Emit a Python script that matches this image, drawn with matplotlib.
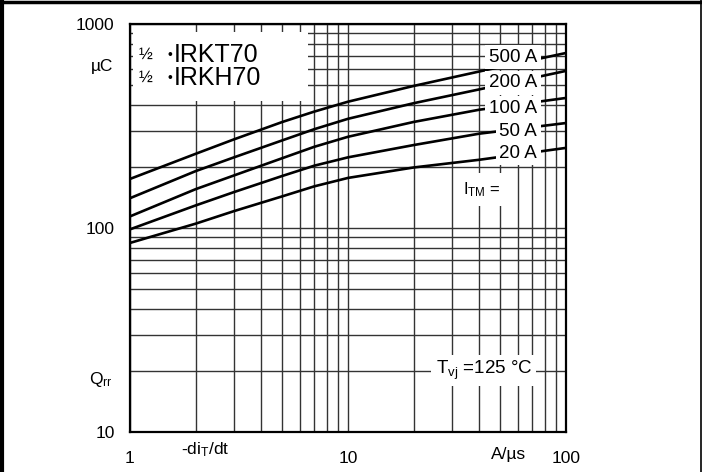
import matplotlib
matplotlib.use('Agg')
import matplotlib.pyplot as plt
from matplotlib.ticker import FixedLocator, LogLocator, NullFormatter
from matplotlib.patches import Rectangle
from matplotlib.lines import Line2D

plt.rcParams['font.family'] = ['Liberation Sans', 'DejaVu Sans']
plt.rcParams['mathtext.fontset'] = 'custom'
plt.rcParams['mathtext.rm'] = 'Liberation Sans'
plt.rcParams['mathtext.it'] = 'Liberation Sans:italic'

# -di/dt in A/us
didt = [1, 2, 3, 5, 7, 10, 20, 40, 100]
# Qrr in uC for each I_TM
qrr_500 = [174, 231, 272, 331, 372, 416, 497, 585, 721]
qrr_200 = [140, 190, 222, 269, 305, 343, 409, 478, 589]
qrr_100 = [114, 155, 181, 220, 250, 280, 331, 380, 434]
qrr_50 = [98.5, 129, 150, 180, 202, 222, 255, 290, 327]
qrr_20 = [84.5, 105, 121, 143, 160, 176, 198, 216, 247]

curves = [qrr_500, qrr_200, qrr_100, qrr_50, qrr_20]
curve_labels = ['500 A', '200 A', '100 A', '50 A', '20 A']
label_y = [689, 514, 387, 296, 233]

fig = plt.figure(figsize=(7.02, 4.72), dpi=100)
ax = fig.add_axes([130 / 702, 40 / 472, 436 / 702, 408 / 472])

ax.set_xscale('log')
ax.set_yscale('log')
ax.set_xlim(1, 100)
ax.set_ylim(10, 1000)

ax.xaxis.set_major_locator(FixedLocator([1, 10, 100]))
ax.xaxis.set_minor_locator(LogLocator(base=10, subs=range(2, 10)))
ax.xaxis.set_minor_formatter(NullFormatter())
ax.yaxis.set_major_locator(FixedLocator([10, 100, 1000]))
ax.yaxis.set_minor_locator(LogLocator(base=10, subs=range(2, 10)))
ax.yaxis.set_minor_formatter(NullFormatter())
ax.set_xticklabels(['1', '10', '100'])
ax.set_yticklabels(['10', '100', '1000'])
ax.tick_params(which='both', length=0, labelsize=12.5)
ax.tick_params(axis='x', pad=14)
ax.tick_params(axis='y', pad=11)
ax.grid(True, which='both', color='#333333', lw=1.0)

for s in ax.spines.values():
    s.set_linewidth(1.6)

for q in curves:
    ax.plot(didt, q, color='black', lw=1.9, zorder=2)

# white box with type names
ax.add_patch(Rectangle((1.037, 419), 6.56 - 1.037, 914 - 419,
                       facecolor='white', edgecolor='none', zorder=3))
for yy, name in [(708, 'IRKT70'), (546, 'IRKH70')]:
    ax.text(1.1, yy, '½', fontsize=12, ha='left', va='center', zorder=4)
    ax.text(1.52, yy, '•', fontsize=10, ha='center', va='center', zorder=4)
    ax.text(1.58, yy, name, fontsize=18, ha='left', va='center', zorder=4)

box = dict(facecolor='white', edgecolor='none', pad=2.5)
for lab, yy in zip(curve_labels, label_y):
    ax.text(73.6, yy, lab, fontsize=13.5, ha='right', va='center',
            bbox=box, zorder=4)

ax.text(41.1, 155, r'I$_{\rm TM}$ =', fontsize=12, ha='center', va='center',
        bbox=dict(facecolor='white', edgecolor='none', pad=5), zorder=4)
ax.text(42, 20, r'T$_{\rm vj}$ =125 °C', fontsize=13.5, ha='center', va='center',
        bbox=dict(facecolor='white', edgecolor='none', pad=3), zorder=4)

# axis labels
ax.text(-0.039, 622, 'µC', fontsize=12.5, ha='right', va='center',
        transform=ax.get_yaxis_transform())
ax.text(-0.039, 18, r'Q$_{\rm rr}$', fontsize=12.5, ha='right', va='center',
        transform=ax.get_yaxis_transform())
ax.text(2.21, -0.044, r'-di$_{\rm T}$/dt', fontsize=12.5, ha='center', va='center',
        transform=ax.get_xaxis_transform())
ax.text(54.3, -0.056, 'A/µs', fontsize=12.5, ha='center', va='center',
        transform=ax.get_xaxis_transform())

# outer frame
fig.add_artist(Line2D([2 / 702, 2 / 702], [0, 1], color='black', lw=3,
                      transform=fig.transFigure))
fig.add_artist(Line2D([0, 1], [470.5 / 472, 470.5 / 472], color='black', lw=2.5,
                      transform=fig.transFigure))
fig.add_artist(Line2D([700.5 / 702, 700.5 / 702], [0, 1], color='black', lw=1.2,
                      transform=fig.transFigure))

fig.savefig('out.png', dpi=100, facecolor='white')
